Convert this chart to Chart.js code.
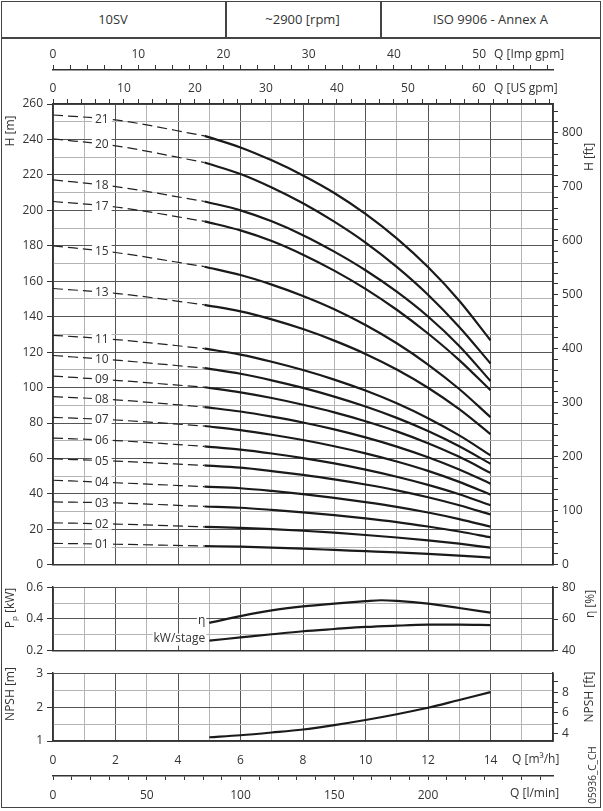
<!DOCTYPE html>
<html>
<head>
<meta charset="utf-8">
<script src="https://cdn.jsdelivr.net/npm/chart.js@4.4.1/dist/chart.umd.min.js"></script>
<style>
  body { margin: 0; width: 603px; height: 811px; position: relative; overflow: hidden; background: #fff;
         font-family: "Open Sans", "DejaVu Sans", sans-serif; color: #333; }
  #frame { position: absolute; left: 1px; top: 1px; width: 598px; height: 805px; border: 1.5px solid #444; }
  .cell { position: absolute; top: 1px; height: 36px; line-height: 36px; text-align: center; font-size: 13px; }
  .sep { position: absolute; background: #444; }
  .box { position: absolute; left: 0; width: 603px; }
</style>
</head>
<body>
<div id="frame"></div>
<div class="cell" style="left:1px;width:224px">10SV</div>
<div class="cell" style="left:225px;width:155px">~2900 [rpm]</div>
<div class="cell" style="left:380px;width:221px">ISO 9906 - Annex A</div>
<div class="sep" style="left:225px;top:1px;width:1.5px;height:36px"></div>
<div class="sep" style="left:380px;top:1px;width:1.5px;height:36px"></div>
<div class="sep" style="left:1px;top:37px;width:600px;height:1.5px"></div>

<div class="box" style="top:37px;height:539px"><canvas id="head" width="603" height="539"></canvas></div>
<div class="box" style="top:576px;height:86px"><canvas id="power" width="603" height="86"></canvas></div>
<div class="box" style="top:662px;height:146px"><canvas id="npsh" width="603" height="146"></canvas></div>

<script>
// --- data (Q in m3/h) ---
const Q_HEAD = [0, 2, 4.85, 6, 7, 8, 9, 10, 11, 12, 13, 14];   // first 3 points dashed, rest solid
const SOLID_FROM = 2;
const LABEL_Q = 1.56;

const STAGE_NAMES = ['21', '20', '18', '17', '15', '13', '11', '10', '09', '08', '07', '06', '05', '04', '03', '02', '01'];
const h21 = [253.8, 251.0, 242.0, 235.5, 228.2, 219.7, 209.8, 198.0, 184.2, 168.0, 149.0, 126.7];
const h20 = [240.3, 236.4, 227.0, 220.5, 212.9, 204.0, 193.6, 181.8, 168.1, 152.4, 134.2, 113.6];
const h18 = [217.2, 213.4, 205.0, 200.0, 193.8, 186.0, 176.7, 166.2, 154.1, 140.1, 123.5, 103.7];
const h17 = [205.0, 201.9, 193.8, 188.7, 182.7, 175.0, 166.0, 155.7, 143.9, 130.5, 115.5, 98.5];
const h15 = [180.0, 176.2, 168.2, 163.5, 158.1, 151.7, 144.2, 135.3, 125.0, 113.0, 99.2, 83.3];
const h13 = [155.9, 153.2, 146.7, 143.0, 138.5, 133.0, 126.5, 119.0, 110.2, 99.9, 87.8, 73.7];
const h11 = [129.5, 127.1, 122.0, 118.6, 114.6, 109.9, 104.5, 98.3, 91.1, 82.7, 73.0, 61.8];
const h10 = [118.1, 115.5, 111.0, 107.8, 104.1, 99.8, 94.9, 89.3, 82.9, 75.5, 66.9, 57.0];
const h09 = [106.5, 104.1, 100.2, 97.3, 94.1, 90.3, 86.0, 81.0, 75.3, 68.6, 60.9, 51.9];
const h08 = [94.9, 93.1, 89.0, 86.5, 83.6, 80.3, 76.4, 71.9, 66.7, 60.7, 53.8, 45.8];
const h07 = [83.2, 81.7, 78.3, 76.0, 73.4, 70.4, 66.9, 62.9, 58.3, 53.0, 46.8, 39.6];
const h06 = [71.5, 70.1, 66.8, 65.0, 62.8, 60.2, 57.2, 53.7, 49.7, 45.1, 39.8, 33.6];
const h05 = [59.8, 58.5, 56.1, 54.8, 52.9, 50.7, 48.2, 45.3, 42.0, 38.1, 33.6, 28.4];
const h04 = [47.7, 46.3, 44.1, 43.2, 41.7, 39.9, 37.8, 35.4, 32.7, 29.5, 25.8, 21.5];
const h03 = [35.5, 34.9, 32.9, 32.2, 31.0, 29.6, 28.0, 26.2, 24.1, 21.6, 18.8, 15.5];
const h02 = [23.7, 23.0, 21.4, 20.8, 20.1, 19.2, 18.1, 16.8, 15.4, 13.8, 11.9, 9.7];
const h01 = [12.1, 11.6, 10.6, 10.2, 9.7, 9.1, 8.4, 7.7, 7.0, 6.2, 5.2, 4.1];
const HEAD_CURVES = [h21, h20, h18, h17, h15, h13, h11, h10, h09, h08, h07, h06, h05, h04, h03, h02, h01];

const Q_EFF = [5, 6, 7, 8, 9, 10, 10.5, 11, 12, 13, 14];
const EFF = [57.6, 61.8, 65.4, 67.9, 69.7, 71.2, 71.8, 71.4, 69.7, 66.9, 64.0];     // η [%]
const Q_POWER = [5, 6, 7, 8, 9, 10, 11, 12, 13, 14];
const POWER = [0.264, 0.284, 0.304, 0.323, 0.337, 0.350, 0.358, 0.364, 0.365, 0.362]; // kW/stage
const Q_NPSH = [5, 6, 7, 8, 9, 10, 11, 12, 13, 14];
const NPSH = [1.11, 1.17, 1.25, 1.34, 1.47, 1.62, 1.79, 1.98, 2.21, 2.44];

// unit conversions for the extra axes
const Q_MAX = 16;
const US_GPM = 4.40287, IMP_GPM = 3.66615, L_MIN = 1000 / 60, FT = 3.28084;

const INK = '#333';
const DARK = '#555';
const LIGHT = '#b4b4b4';
const FONT = '"Open Sans", "DejaVu Sans", sans-serif';
Chart.defaults.font.family = FONT;
Chart.defaults.font.size = 12;
Chart.defaults.color = INK;

const pts = (xs, ys) => xs.map((x, i) => ({ x: x, y: ys[i] }));

// text placed in page coordinates (axis titles etc.)
const pageText = {
  id: 'pageText',
  afterDraw(chart, args, opts) {
    const ctx = chart.ctx;
    (opts.items || []).forEach(it => {
      ctx.save();
      ctx.translate(it.x, it.y - opts.top);
      if (it.rot) ctx.rotate(-Math.PI / 2);
      ctx.fillStyle = INK;
      ctx.textBaseline = 'middle';
      const parts = it.parts || [{ t: it.text }];
      let w = 0;
      parts.forEach(p => { ctx.font = (p.size || it.size || 12) + 'px ' + FONT; w += ctx.measureText(p.t).width; });
      let x0 = it.align === 'left' ? 0 : it.align === 'right' ? -w : -w / 2;
      ctx.textAlign = 'left';
      parts.forEach(p => {
        ctx.font = (p.size || it.size || 12) + 'px ' + FONT;
        ctx.fillText(p.t, x0, p.dy || 0);
        x0 += ctx.measureText(p.t).width;
      });
      ctx.restore();
    });
  }
};

// stage numbers sitting on the dashed part
const stageLabels = {
  id: 'stageLabels',
  afterDatasetsDraw(chart) {
    const { ctx, scales: { x, y } } = chart;
    const px = x.getPixelForValue(LABEL_Q);
    ctx.save();
    ctx.font = '12px ' + FONT;
    ctx.textAlign = 'center';
    ctx.textBaseline = 'middle';
    STAGE_NAMES.forEach((name, i) => {
      const h = HEAD_CURVES[i];
      const py = y.getPixelForValue(h[0] + (h[1] - h[0]) * LABEL_Q / Q_HEAD[1]);
      const w = ctx.measureText(name).width;
      ctx.fillStyle = '#fff';
      ctx.fillRect(px - w / 2 - 3, py - 6, w + 6, 12);
      ctx.fillStyle = INK;
      ctx.fillText(name, px, py + 0.5);
    });
    ctx.restore();
  }
};

// labels at the start of the η and kW curves
const curveNames = {
  id: 'curveNames',
  afterDatasetsDraw(chart) {
    const ctx = chart.ctx;
    ctx.save();
    ctx.font = '12px ' + FONT;
    ctx.textAlign = 'right';
    ctx.textBaseline = 'middle';
    chart.data.datasets.forEach((ds, i) => {
      const p = chart.getDatasetMeta(i).data[0];
      const w = ctx.measureText(ds.label).width;
      ctx.fillStyle = '#fff';
      ctx.fillRect(p.x - 4 - w - 1, p.y - 7, w + 2, 12);
      ctx.fillStyle = INK;
      ctx.fillText(ds.label, p.x - 4, p.y - 2);
    });
    ctx.restore();
  }
};

const qGrid = (height) => ({
  type: 'linear', position: 'bottom', min: 0, max: Q_MAX,
  ticks: { display: false, stepSize: 1, autoSkip: false },
  grid: { color: c => (c.tick && c.tick.value % 2 === 0) ? DARK : LIGHT, drawTicks: false },
  border: { color: INK, width: 1.5 },
  afterFit: s => { s.height = height; }
});

const common = {
  responsive: false,
  animation: false,
  events: [],
  layout: { padding: 0 },
  elements: { point: { radius: 0 }, line: { borderCapStyle: 'butt', borderJoinStyle: 'round' } }
};

// ---------- head curves ----------
const headSets = [];
HEAD_CURVES.forEach((h, i) => {
  headSets.push({
    label: STAGE_NAMES[i] + ' dashed',
    data: pts(Q_HEAD.slice(0, SOLID_FROM + 1), h.slice(0, SOLID_FROM + 1)),
    borderColor: '#222', borderWidth: 1.2, borderDash: [10, 5],
    cubicInterpolationMode: 'monotone', xAxisID: 'x', yAxisID: 'y'
  });
  headSets.push({
    label: STAGE_NAMES[i],
    data: pts(Q_HEAD.slice(SOLID_FROM), h.slice(SOLID_FROM)),
    borderColor: '#1a1a1a', borderWidth: 2.2,
    cubicInterpolationMode: 'monotone', xAxisID: 'x', yAxisID: 'y'
  });
});

new Chart(document.getElementById('head'), {
  type: 'line',
  data: { datasets: headSets },
  options: Object.assign({}, common, {
    plugins: {
      legend: { display: false }, tooltip: { enabled: false },
      pageText: { top: 37, items: [
        { text: 'Q [Imp gpm]', x: 494, y: 55, align: 'left' },
        { text: 'Q [US gpm]', x: 494, y: 89, align: 'left' },
        { text: 'H [m]', x: 11, y: 131, rot: true },
        { text: 'H [ft]', x: 590, y: 157, rot: true }
      ] }
    },
    scales: {
      x: qGrid(8),
      xUs: {
        type: 'linear', position: 'top', weight: 0, min: 0, max: Q_MAX * US_GPM,
        ticks: { stepSize: 2, includeBounds: false, autoSkip: false, minRotation: 0, maxRotation: 0, padding: 3,
                 callback: v => (v % 10 === 0 && v <= 60) ? v : '' },
        grid: { drawOnChartArea: false, tickLength: 5, color: INK },
        border: { color: INK, width: 1.5 },
        afterFit: s => { s.height = 34; }
      },
      xImp: {
        type: 'linear', position: 'top', weight: 1, min: 0, max: Q_MAX * IMP_GPM,
        ticks: { stepSize: 2, includeBounds: false, autoSkip: false, minRotation: 0, maxRotation: 0, padding: 3,
                 callback: v => (v % 10 === 0 && v <= 50) ? v : '' },
        grid: { drawOnChartArea: false, tickLength: 5, color: INK },
        border: { color: INK, width: 1.5 },
        afterFit: s => { s.height = 33; }
      },
      y: {
        type: 'linear', position: 'left', min: 0, max: 260,
        ticks: { stepSize: 10, autoSkip: false, padding: 4, callback: v => v % 20 === 0 ? v : '' },
        grid: { color: c => c.tick.value % 20 === 0 ? DARK : LIGHT,
                tickColor: c => c.tick.value % 20 === 0 ? INK : 'transparent', tickLength: 6 },
        border: { color: INK, width: 1.5 },
        afterFit: s => { s.width = 53; }
      },
      yFt: {
        type: 'linear', position: 'right', min: 0, max: 260 * FT,
        ticks: { stepSize: 20, includeBounds: false, autoSkip: false, padding: 4, callback: v => v % 100 === 0 ? v : '' },
        grid: { drawOnChartArea: false, tickLength: 5, color: INK },
        border: { color: INK, width: 1.5 },
        afterFit: s => { s.width = 50; }
      }
    }
  }),
  plugins: [stageLabels, pageText]
});

// ---------- efficiency / power ----------
new Chart(document.getElementById('power'), {
  type: 'line',
  data: { datasets: [
    { label: 'η', data: pts(Q_EFF, EFF), borderColor: '#1a1a1a', borderWidth: 2.2,
      cubicInterpolationMode: 'monotone', xAxisID: 'x', yAxisID: 'yEff' },
    { label: 'kW/stage', data: pts(Q_POWER, POWER), borderColor: '#1a1a1a', borderWidth: 2.2,
      cubicInterpolationMode: 'monotone', xAxisID: 'x', yAxisID: 'yP' }
  ] },
  options: Object.assign({}, common, {
    layout: { padding: { top: 11 } },
    plugins: {
      legend: { display: false }, tooltip: { enabled: false },
      pageText: { top: 576, items: [
        { parts: [{ t: 'P' }, { t: 'p', size: 8, dy: 4 }, { t: ' [kW]' }], x: 11, y: 608, rot: true },
        { text: 'η [%]', x: 591, y: 604, rot: true }
      ] }
    },
    scales: {
      x: qGrid(7),
      yP: {
        type: 'linear', position: 'left', min: 0.2, max: 0.6,
        ticks: { stepSize: 0.1, autoSkip: false, padding: 4,
                 callback: v => Math.round(v * 10) % 2 === 0 ? v.toFixed(1) : '' },
        grid: { color: c => Math.round(c.tick.value * 10) % 2 === 0 ? DARK : LIGHT,
                tickColor: c => Math.round(c.tick.value * 10) % 2 === 0 ? INK : 'transparent', tickLength: 6 },
        border: { color: INK, width: 1.5 },
        afterFit: s => { s.width = 53; }
      },
      yEff: {
        type: 'linear', position: 'right', min: 40, max: 80,
        ticks: { stepSize: 10, autoSkip: false, padding: 4, callback: v => v % 20 === 0 ? v : '' },
        grid: { drawOnChartArea: false, tickLength: 5,
                tickColor: c => c.tick.value % 20 === 0 ? INK : 'transparent' },
        border: { color: INK, width: 1.5 },
        afterFit: s => { s.width = 50; }
      }
    }
  }),
  plugins: [curveNames, pageText]
});

// ---------- NPSH ----------
new Chart(document.getElementById('npsh'), {
  type: 'line',
  data: { datasets: [
    { label: 'NPSH', data: pts(Q_NPSH, NPSH), borderColor: '#1a1a1a', borderWidth: 2.2,
      cubicInterpolationMode: 'monotone', xAxisID: 'x', yAxisID: 'yN' }
  ] },
  options: Object.assign({}, common, {
    layout: { padding: { top: 11 } },
    plugins: {
      legend: { display: false }, tooltip: { enabled: false },
      pageText: { top: 662, items: [
        { text: 'NPSH [m]', x: 11, y: 694, rot: true },
        { text: 'NPSH [ft]', x: 590, y: 697, rot: true },
        { text: 'Q [m³/h]', x: 512, y: 760, align: 'left' },
        { text: 'Q [l/min]', x: 510, y: 794, align: 'left' },
        { text: '05936_C_CH', x: 593, y: 775, rot: true, size: 10 }
      ] }
    },
    scales: {
      x: {
        type: 'linear', position: 'bottom', weight: 0, min: 0, max: Q_MAX,
        ticks: { stepSize: 1, autoSkip: false, minRotation: 0, maxRotation: 0, padding: 12,
                 callback: v => (v % 2 === 0 && v <= 14) ? v : '' },
        grid: { color: c => (c.tick && c.tick.value % 2 === 0) ? DARK : LIGHT, drawTicks: false },
        border: { color: INK, width: 1.5 },
        afterFit: s => { s.height = 35; }
      },
      xL: {
        type: 'linear', position: 'bottom', weight: 1, min: 0, max: Q_MAX * L_MIN,
        ticks: { stepSize: 10, includeBounds: false, autoSkip: false, minRotation: 0, maxRotation: 0, padding: 8,
                 callback: v => (v % 50 === 0 && v <= 200) ? v : '' },
        grid: { drawOnChartArea: false, tickLength: 4, color: INK },
        border: { color: INK, width: 1.5 },
        afterFit: s => { s.height = 32; }
      },
      yN: {
        type: 'linear', position: 'left', min: 1, max: 3,
        ticks: { stepSize: 0.5, autoSkip: false, padding: 4, callback: v => v % 1 === 0 ? v : '' },
        grid: { color: c => c.tick.value % 1 === 0 ? DARK : LIGHT,
                tickColor: c => c.tick.value % 1 === 0 ? INK : 'transparent', tickLength: 6 },
        border: { color: INK, width: 1.5 },
        afterFit: s => { s.width = 53; }
      },
      yNft: {
        type: 'linear', position: 'right', min: 1 * FT, max: 3 * FT,
        ticks: { stepSize: 1, includeBounds: false, autoSkip: false, padding: 4, callback: v => v % 2 === 0 ? v : '' },
        grid: { drawOnChartArea: false, tickLength: 5, color: INK },
        border: { color: INK, width: 1.5 },
        afterFit: s => { s.width = 50; }
      }
    }
  }),
  plugins: [pageText]
});
</script>
</body>
</html>
